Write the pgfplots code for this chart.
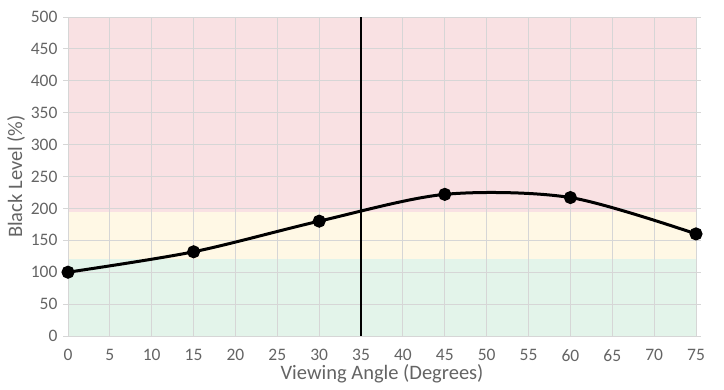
\documentclass[border=0pt]{standalone}
\usepackage{pgfplots}
\pgfplotsset{compat=1.18}
\usepackage{fontspec}
\setmainfont{Carlito}
\definecolor{bandred}{RGB}{249,225,227}
\definecolor{bandyellow}{RGB}{255,248,229}
\definecolor{bandgreen}{RGB}{227,244,234}
\definecolor{gridc}{RGB}{214,214,214}
\definecolor{txt}{RGB}{100,100,100}
\begin{document}
\begin{tikzpicture}
\begin{axis}[
  at={(68pt,54pt)}, anchor=south west,
  scale only axis, width=628pt, height=319pt,
  xmin=0, xmax=75, ymin=0, ymax=500,
  xtick={0,5,...,75}, ytick={0,50,...,500},
  set layers,
  grid=major,
  major grid style={draw=gridc, line width=0.9pt},
  axis line style={draw=gridc, line width=0.9pt},
  xtick style={draw=none},
  ytick style={draw=gridc, line width=0.9pt},
  tick align=outside,
  major tick length=5pt,
  tick label style={font=\fontsize{17.5}{19}\selectfont, text=txt},
  xticklabel style={yshift=-5pt},
  yticklabel style={xshift=-2pt},
  /pgf/number format/assume math mode=true,
  xlabel={Viewing Angle (Degrees)},
  ylabel={Black Level (\%)},
  label style={font=\fontsize{20.5}{22}\selectfont, text=txt},
  xlabel style={yshift=4pt},
  ylabel style={yshift=-1pt},
]
\begin{pgfonlayer}{axis background}
\addplot[fill=bandred, draw=none] coordinates {(0,500) (75,500)} \closedcycle;
\addplot[fill=bandyellow, draw=none] coordinates {(0,195) (75,195)} \closedcycle;
\addplot[fill=bandgreen, draw=none] coordinates {(0,120) (75,120)} \closedcycle;
\end{pgfonlayer}
\addplot[black, line width=2.8pt] coordinates {(35,0) (35,500)};
\addplot[black, line width=3pt, smooth, mark=*, mark size=5pt, clip=false] coordinates {
  (0,100) (15,132) (30,180) (45,222) (60,217) (75,160)
};
\end{axis}
\path (0pt,0pt) rectangle (724pt,390pt);
\end{tikzpicture}
\end{document}
